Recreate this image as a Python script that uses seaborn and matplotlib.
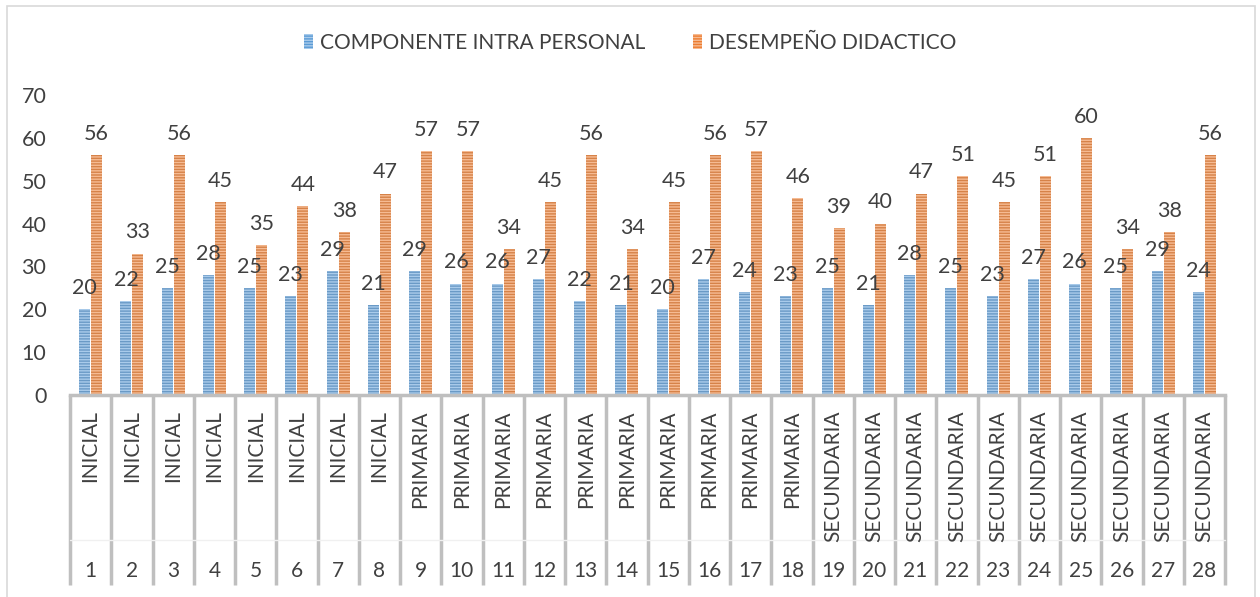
import pandas as pd
import numpy as np
import seaborn as sns
import matplotlib.pyplot as plt
from matplotlib.patches import Patch, Rectangle
from matplotlib.transforms import blended_transform_factory

# datos del grafico
numeros = [str(i) for i in range(1, 29)]
niveles = ['INICIAL'] * 8 + ['PRIMARIA'] * 10 + ['SECUNDARIA'] * 10
intra_personal = [20, 22, 25, 28, 25, 23, 29, 21, 29, 26, 26, 27, 22, 21,
                  20, 27, 24, 23, 25, 21, 28, 25, 23, 27, 26, 25, 29, 24]
desempeno = [56, 33, 56, 45, 35, 44, 38, 47, 57, 57, 34, 45, 56, 34,
             45, 56, 57, 46, 39, 40, 47, 51, 45, 51, 60, 34, 38, 56]
series = ['COMPONENTE INTRA PERSONAL', 'DESEMPEÑO DIDACTICO']
colores = {'COMPONENTE INTRA PERSONAL': '#5B9BD5', 'DESEMPEÑO DIDACTICO': '#ED7D31'}
rayas = {'COMPONENTE INTRA PERSONAL': '#A9CBEB', 'DESEMPEÑO DIDACTICO': '#F6BB93'}

df = pd.DataFrame({
    'num': numeros * 2,
    'serie': [series[0]] * 28 + [series[1]] * 28,
    'valor': intra_personal + desempeno,
})

sns.set_style('white')
plt.rcParams['font.family'] = ['Lato', 'DejaVu Sans']
plt.rcParams['hatch.linewidth'] = 1.0
texto = '#404040'
gris = '#bfbfbf'

fig = plt.figure(figsize=(12.6, 5.97), dpi=100)
ax = fig.add_axes([70 / 1260, 1 - 395 / 597, 1155 / 1260, 300 / 597])

sns.barplot(data=df, x='num', y='valor', hue='serie', order=numeros,
            hue_order=series, palette=colores, width=0.58, gap=0.08,
            linewidth=0, hatch='------', ax=ax, legend=False)

for cont, s in zip(ax.containers, series):
    for p in cont:
        p.set_edgecolor(rayas[s])
        p.set_linewidth(0)
    ax.bar_label(cont, fmt='%d', padding=8, fontsize=15.5, color=texto)

ax.set_ylim(0, 70)
ax.set_xlim(-0.5, 27.5)
ax.set_yticks(range(0, 71, 10))
ax.tick_params(axis='y', length=0, pad=17, labelsize=15.5, labelcolor=texto)
ax.set_xticks([])
ax.set_xlabel('')
ax.set_ylabel('')
for s in ['top', 'right', 'left']:
    ax.spines[s].set_visible(False)
ax.spines['bottom'].set_color(gris)
ax.spines['bottom'].set_linewidth(2.5)

# eje de categorias de dos niveles
tr = blended_transform_factory(ax.transData, ax.transAxes)
for i in range(29):
    ax.plot([i - 0.5, i - 0.5], [0, -0.633], transform=tr, color=gris,
            lw=2.5, clip_on=False, solid_capstyle='butt')
ax.plot([-0.5, 27.5], [-0.483, -0.483], transform=tr, color='#f0f0f0',
        lw=1, clip_on=False)
for i, (n, nv) in enumerate(zip(numeros, niveles)):
    ax.text(i, -0.05, nv, transform=tr, rotation=90, ha='center', va='top',
            fontsize=15, color=texto)
    ax.text(i, -0.587, n, transform=tr, ha='center', va='center',
            fontsize=15, color=texto)

# leyenda
handles = [Patch(facecolor=colores[s], edgecolor=rayas[s], linewidth=0,
                 hatch='------', label=s) for s in series]
fig.legend(handles=handles, loc='center', bbox_to_anchor=(0.5, 1 - 43 / 597),
           ncol=2, frameon=False, fontsize=15, handlelength=0.45,
           handleheight=0.75, handletextpad=0.3, columnspacing=2.3,
           labelcolor=texto)

# borde del grafico
fig.add_artist(Rectangle((7 / 1260, -0.02), 1248 / 1260, 1.02 - 6 / 597,
                         transform=fig.transFigure, fill=False,
                         edgecolor='#d9d9d9', lw=1.2))

fig.savefig('out.png', dpi=100)
